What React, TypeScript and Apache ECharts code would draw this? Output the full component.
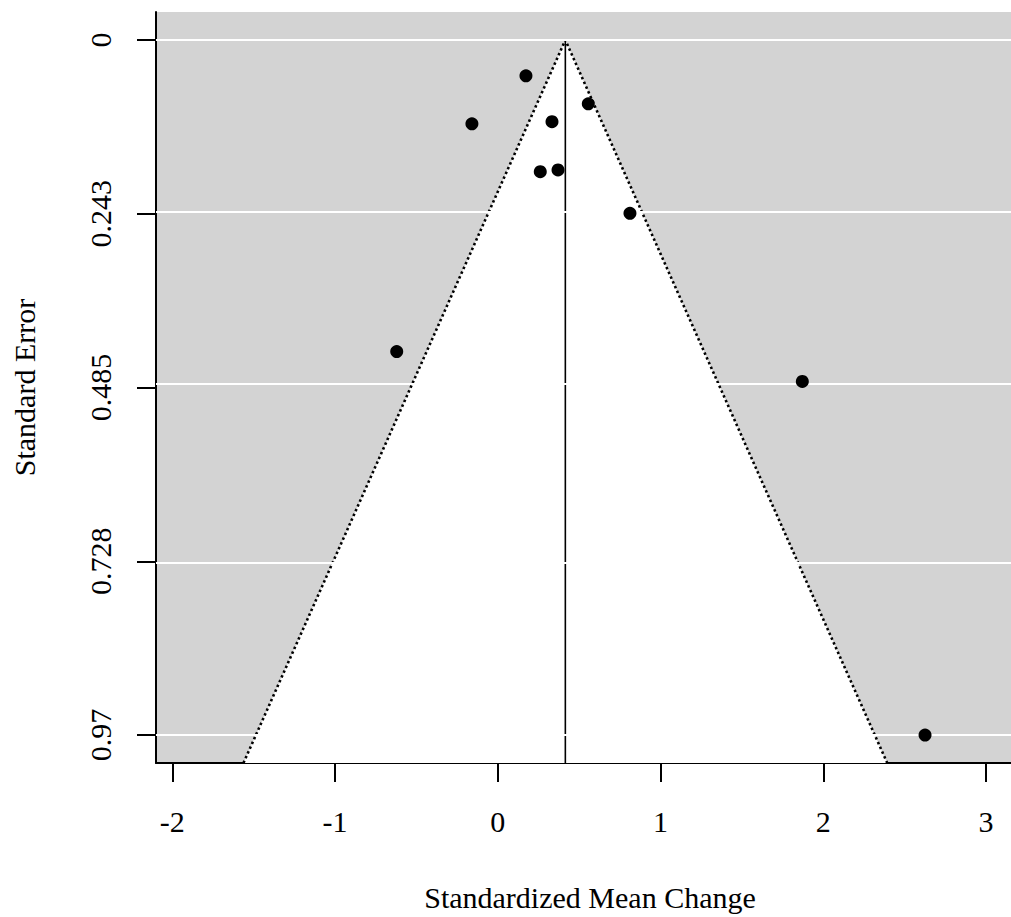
import React, { useEffect, useRef } from "react";
import * as echarts from "echarts";

// Study estimates (standardized mean change) and their standard errors
const effectSizes = [0.173, 0.556, -0.159, 0.333, 0.261, 0.370, 0.812, -0.621, 1.871, 2.625];
const standardErrors = [0.0501, 0.0891, 0.117, 0.114, 0.1838, 0.1814, 0.2419, 0.4348, 0.4766, 0.970];

// Pooled estimate and funnel parameters
const pooledEstimate = 0.415;
const zCrit = 1.96;
const seMax = 1.009;

// Tick values and labels
const xTicks = [-2, -1, 0, 1, 2, 3];
const xTickLabels = ["-2", "-1", "0", "1", "2", "3"];
const seTicks = [0, 0.2425, 0.485, 0.7275, 0.97];
const seTickLabels = ["0", "0.243", "0.485", "0.728", "0.97"];

const FONT = "'Liberation Serif', 'Times New Roman', serif";

const funnelPolygon = [
  [pooledEstimate - zCrit * seMax, seMax],
  [pooledEstimate, 0],
  [pooledEstimate + zCrit * seMax, seMax],
];

const labelFor = (ticks: number[], labels: string[]) => (v: number) => {
  const i = ticks.findIndex((t) => Math.abs(t - v) < 1e-9);
  return i >= 0 ? labels[i] : "";
};

export default function App() {
  const ref = useRef<HTMLDivElement>(null);
  useEffect(() => {
    if (!ref.current) return;
    const chart = echarts.init(ref.current, null, { renderer: "svg" });
    const option: any = {
      animation: false,
      backgroundColor: "#ffffff",
      grid: {
        left: 156,
        right: 0,
        top: 12,
        bottom: 153,
        show: true,
        backgroundColor: "#d3d3d3",
        borderWidth: 0,
      },
      xAxis: {
        type: "value",
        min: -2.1,
        max: 3.233,
        name: "Standardized Mean Change",
        nameLocation: "middle",
        nameGap: 119,
        nameTextStyle: { fontFamily: FONT, fontSize: 30, color: "#000" },
        axisLine: { show: true, onZero: false, lineStyle: { color: "#000", width: 2 } },
        axisTick: { show: true, length: 19, customValues: xTicks, lineStyle: { color: "#000", width: 2 } },
        axisLabel: {
          customValues: xTicks,
          formatter: labelFor(xTicks, xTickLabels),
          margin: 43,
          fontFamily: FONT,
          fontSize: 30,
          color: "#000",
        },
        splitLine: { show: false },
      },
      yAxis: {
        type: "value",
        inverse: true,
        min: -0.039,
        max: seMax,
        name: "Standard Error",
        nameLocation: "middle",
        nameRotate: 90,
        nameGap: 117,
        nameTextStyle: { fontFamily: FONT, fontSize: 30, color: "#000" },
        axisLine: { show: true, onZero: false, lineStyle: { color: "#000", width: 2 } },
        axisTick: { show: true, length: 19, customValues: seTicks, lineStyle: { color: "#000", width: 2 } },
        axisLabel: {
          customValues: seTicks,
          formatter: labelFor(seTicks, seTickLabels),
          rotate: 90,
          margin: 41,
          fontFamily: FONT,
          fontSize: 30,
          color: "#000",
        },
        splitLine: { show: false },
      },
      series: [
        {
          type: "custom",
          z: 2,
          silent: true,
          data: funnelPolygon,
          encode: { x: 0, y: 1 },
          renderItem: (params: any, api: any) => {
            if (params.dataIndex !== 0) return null;
            const pts = funnelPolygon.map((p) => api.coord(p));
            return { type: "polygon", shape: { points: pts }, style: { fill: "#ffffff" }, silent: true };
          },
          markLine: {
            silent: true,
            symbol: ["none", "none"],
            label: { show: false },
            lineStyle: { color: "#ffffff", width: 2, type: "solid", opacity: 1 },
            data: seTicks.map((v) => ({ yAxis: v })),
          },
        },
        {
          type: "line",
          z: 3,
          silent: true,
          symbol: "none",
          data: funnelPolygon,
          lineStyle: { color: "#000", width: 2.6, type: [2.4, 2.8] },
        },
        {
          type: "line",
          z: 3,
          silent: true,
          symbol: "none",
          data: [
            [pooledEstimate, 0],
            [pooledEstimate, seMax],
          ],
          lineStyle: { color: "#000", width: 1.6 },
        },
        {
          type: "scatter",
          z: 5,
          symbol: "circle",
          symbolSize: 13,
          itemStyle: { color: "#000", opacity: 1 },
          data: effectSizes.map((x, i) => [x, standardErrors[i]]),
        },
      ],
    };
    chart.setOption(option);
    return () => chart.dispose();
  }, []);
  return (
    <div
      style={{ position: "absolute", left: 0, top: 0, width: 1011, height: 917, overflow: "hidden" }}
    >
      <div ref={ref} style={{ width: 1024, height: 917 }} />
    </div>
  );
}
